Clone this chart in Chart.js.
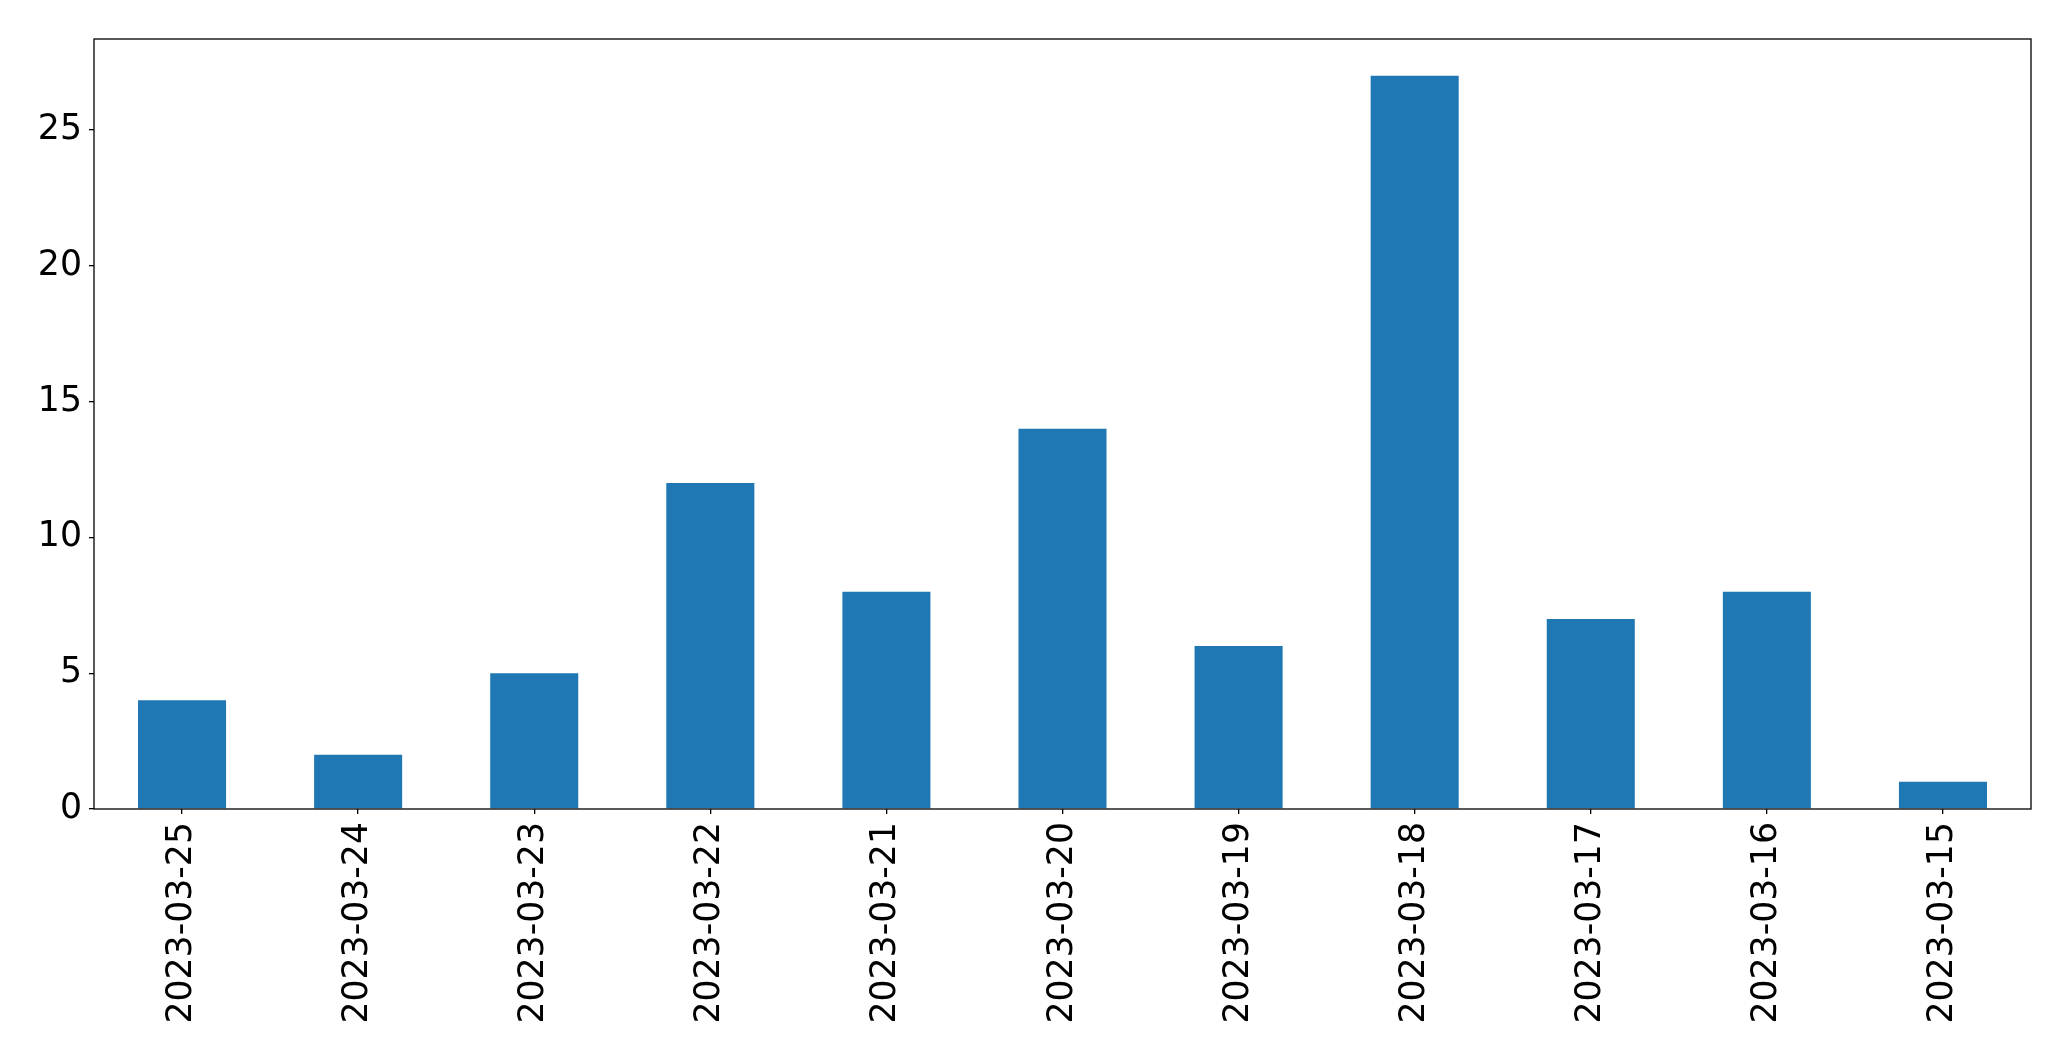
<!DOCTYPE html>
<html lang="en">
<head>
<meta charset="UTF-8">
<title>Daily counts</title>
<script src="https://cdn.jsdelivr.net/npm/chart.js"></script>
<style>
    html, body { margin: 0; padding: 0; background: #fff; }
    .wrap { width: 2071px; height: 1061px; }
</style>
</head>
<body>
<div class="wrap"><canvas id="bars" width="2071" height="1061"></canvas></div>
<script>
const dates = ['2023-03-25', '2023-03-24', '2023-03-23', '2023-03-22', '2023-03-21', '2023-03-20',
               '2023-03-19', '2023-03-18', '2023-03-17', '2023-03-16', '2023-03-15'];
const counts = [4, 2, 5, 12, 8, 14, 6, 27, 7, 8, 1];
const yTicks = [0, 5, 10, 15, 20, 25];

// black frame around the plot area (matplotlib style spines)
const frame = {
    id: 'frame',
    afterDraw(chart) {
        const a = chart.chartArea, c = chart.ctx;
        c.save();
        c.strokeStyle = '#000';
        c.lineWidth = 1.3;
        c.strokeRect(a.left, a.top, a.right - a.left, a.bottom - a.top);
        c.restore();
    }
};

new Chart(document.getElementById('bars'), {
    type: 'bar',
    data: {
        labels: dates,
        datasets: [{
            data: counts,
            backgroundColor: '#1f77b4',
            barPercentage: 0.5,
            categoryPercentage: 1.0
        }]
    },
    options: {
        responsive: false,
        animation: false,
        layout: { padding: { top: 39, right: 40, left: 0, bottom: 0 } },
        plugins: { legend: { display: false }, tooltip: { enabled: false } },
        scales: {
            x: {
                offset: true,
                grid: { offset: false, drawOnChartArea: false, tickLength: 5, color: '#000', lineWidth: 1.3 },
                border: { display: false },
                ticks: {
                    color: '#000',
                    font: { family: 'DejaVu Sans', size: 34.7 },
                    minRotation: 90, maxRotation: 90,
                    padding: 8, autoSkip: false
                },
                afterFit(s) { s.height = 252; }
            },
            y: {
                min: 0,
                max: 28.35,
                grid: { drawOnChartArea: false, tickLength: 5, color: '#000', lineWidth: 1.3 },
                border: { display: false },
                ticks: {
                    color: '#000',
                    font: { family: 'DejaVu Sans', size: 34.7 },
                    stepSize: 5,
                    padding: 7
                },
                afterBuildTicks(s) { s.ticks = yTicks.map(v => ({ value: v })); },
                afterFit(s) { s.width = 94; }
            }
        }
    },
    plugins: [frame]
});
</script>
</body>
</html>
